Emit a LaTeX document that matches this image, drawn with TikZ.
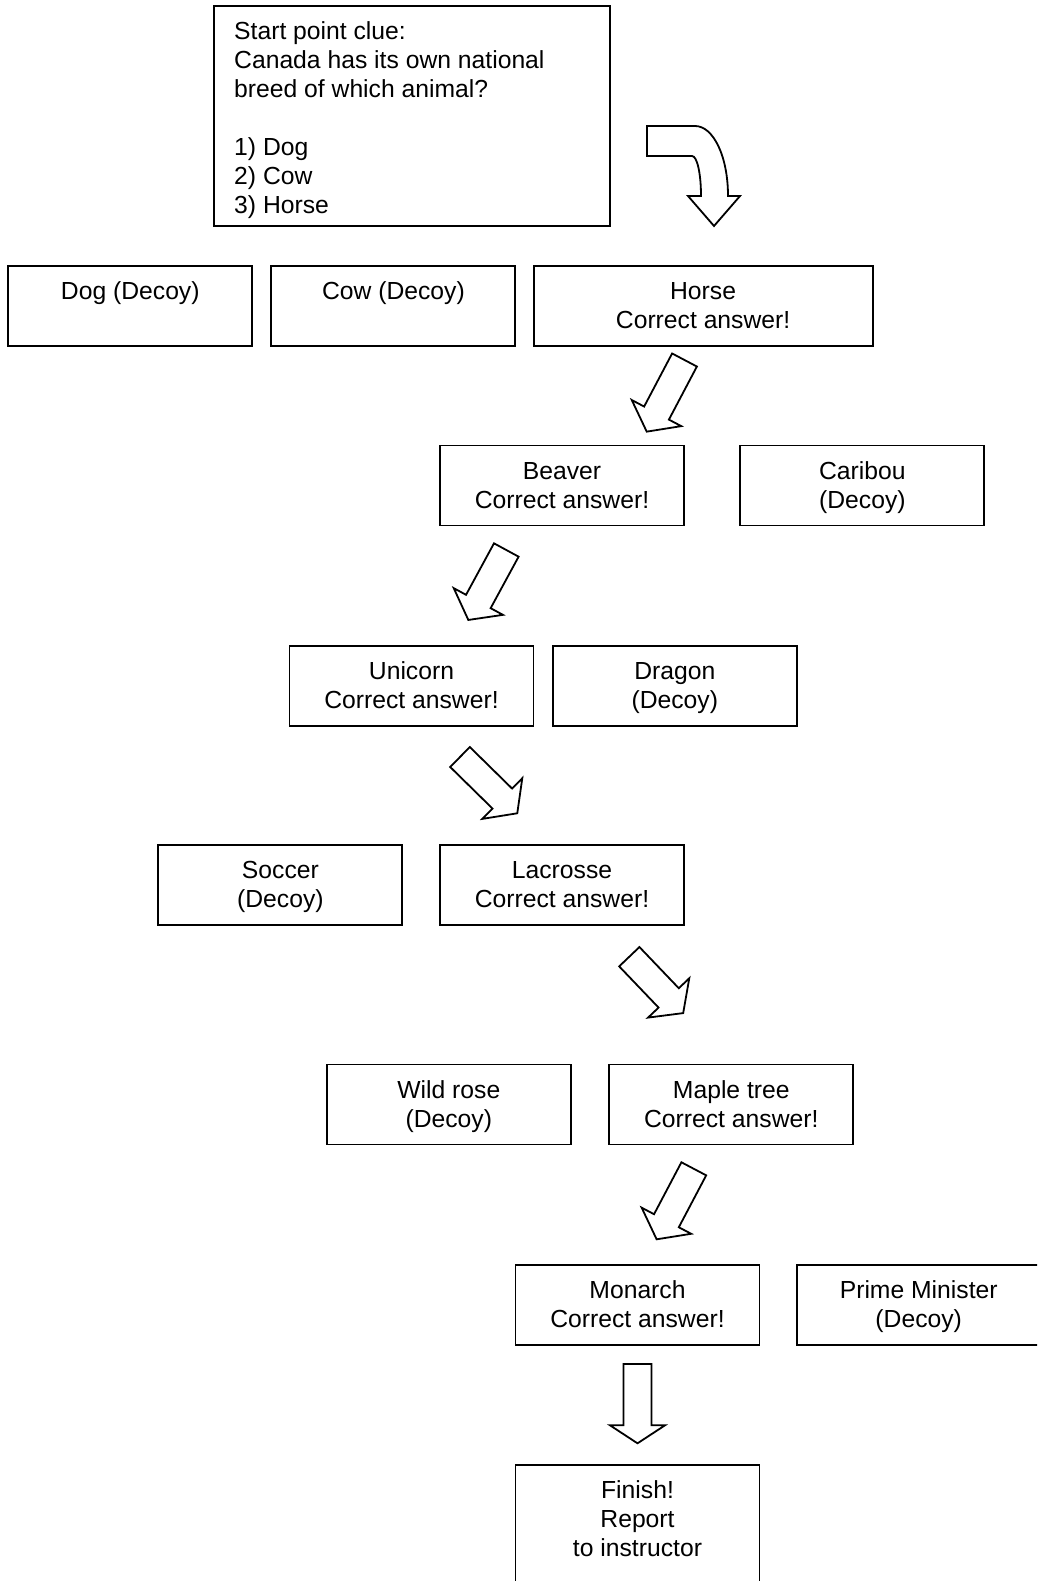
\documentclass[tikz,border=0pt]{standalone}
\usepackage{fontspec}
\setmainfont{Liberation Sans}
\begin{document}
\begin{tikzpicture}[x=1pt,y=-1pt,
  box/.style={draw=black, line width=1.9pt, rectangle, inner sep=0pt, outer sep=0pt,
    minimum width=244pt, minimum height=80pt, anchor=north west},
  txt/.style={inner sep=0pt, align=center, anchor=north, text=black,
    font=\fontsize{24.7}{29}\selectfont},
  blk/.style={draw=black, fill=white, line width=1.8pt, line join=miter}]
\newcommand\blockarrow[5]{%
  \begin{scope}[shift={(#1)}, rotate=#2]
    \draw[blk] (0pt,-14pt) -- ({#3pt-#4pt},-14pt) -- ({#3pt-#4pt},-#5pt) -- (#3pt,0pt)
      -- ({#3pt-#4pt},#5pt) -- ({#3pt-#4pt},14pt) -- (0pt,14pt) -- cycle;
  \end{scope}}
\fill[white] (0,0) rectangle (1037,1581);
\clip (0,0) rectangle (1037,1581);
% start box
\node[box, minimum width=396pt, minimum height=220pt] (start) at (214,6) {};
\node[txt, anchor=north west, align=left] (startT) at (234,19.2)
  {\strut Start point clue:\\Canada has its own national\\breed of which animal?\\[29pt]1) Dog\\2) Cow\\3) Horse};
% row 1
\node[box] (dog) at (8.3,266) {};
\node[box] (cow) at (271.4,266) {};
\node[box, minimum width=339pt] (horse) at (533.6,266) {};
\node[txt] (dogT) at ([yshift=-13pt]dog.north) {\strut Dog (Decoy)};
\node[txt] (cowT) at ([yshift=-13pt]cow.north) {\strut Cow (Decoy)};
\node[txt] (horseT) at ([yshift=-13pt]horse.north) {\strut Horse\\Correct answer!};
% row 2
\node[box] (beaver) at (440,445.5) {};
\node[box] (caribou) at (740.4,445.5) {};
\node[txt] (beaverT) at ([yshift=-13pt]beaver.north) {\strut Beaver\\Correct answer!};
\node[txt] (caribouT) at ([yshift=-13pt]caribou.north) {\strut Caribou\\(Decoy)};
% row 3
\node[box] (unicorn) at (289.5,645.6) {};
\node[box] (dragon) at (552.8,645.6) {};
\node[txt] (unicornT) at ([yshift=-13pt]unicorn.north) {\strut Unicorn\\Correct answer!};
\node[txt] (dragonT) at ([yshift=-13pt]dragon.north) {\strut Dragon\\(Decoy)};
% row 4
\node[box] (soccer) at (158.4,845.3) {};
\node[box] (lacrosse) at (440,845.3) {};
\node[txt] (soccerT) at ([yshift=-13pt]soccer.north) {\strut Soccer\\(Decoy)};
\node[txt] (lacrosseT) at ([yshift=-13pt]lacrosse.north) {\strut Lacrosse\\Correct answer!};
% row 5
\node[box] (wildrose) at (326.8,1064.5) {};
\node[box] (maple) at (609.3,1064.5) {};
\node[txt] (wildroseT) at ([yshift=-13pt]wildrose.north) {\strut Wild rose\\(Decoy)};
\node[txt] (mapleT) at ([yshift=-13pt]maple.north) {\strut Maple tree\\Correct answer!};
% row 6
\node[box] (monarch) at (515.5,1265) {};
\node[box, minimum width=270pt] (prime) at (796.7,1265) {};
\node[txt] (monarchT) at ([yshift=-13pt]monarch.north) {\strut Monarch\\Correct answer!};
\node[txt] (primeT) at ([yshift=-13pt, xshift=-13pt]prime.north) {\strut Prime Minister\\(Decoy)};
% finish
\node[box, minimum height=140pt] (finish) at (515.5,1464.7) {};
\node[txt] (finishT) at ([yshift=-13pt]finish.north) {\strut Finish!\\Report\\to instructor};
% curved arrow
\draw[blk] (647,126) -- (695,126) .. controls (713.2,126) and (728,156) .. (728,196)
  -- (740,196) -- (714,226) -- (688,196) -- (701,196)
  .. controls (701,173) and (697,156) .. (692,156) -- (647,156) -- cycle;
% block arrows
\coordinate (a2) at (684.5,360);
\coordinate (a3) at (506.3,550);
\coordinate (a4) at (460,757);
\coordinate (a5) at (629.3,956.7);
\coordinate (a6) at (693.8,1168.8);
\coordinate (a7) at (637.5,1364);
\blockarrow{a2}{-117.8}{81}{21}{28}
\blockarrow{a3}{-118.5}{79.6}{21}{28}
\blockarrow{a4}{-44.5}{80.3}{21}{28.5}
\blockarrow{a5}{-46.3}{78}{21}{28.5}
\blockarrow{a6}{-117.8}{79.7}{21}{28}
\blockarrow{a7}{-90}{79.3}{18}{27.5}
\end{tikzpicture}
\end{document}
